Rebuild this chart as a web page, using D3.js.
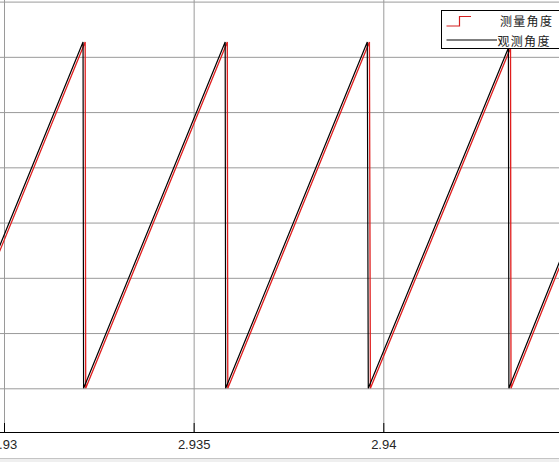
<!DOCTYPE html>
<html>
<head>
<meta charset="utf-8">
<script src="https://cdn.jsdelivr.net/npm/d3@7"></script>
<style>
  body { margin: 0; background: #fff; }
  svg { display: block; }
  .tick text { font-family: "Liberation Sans", Arial, sans-serif; font-size: 13px; fill: #262626; }
</style>
</head>
<body>
<svg width="559" height="462"></svg>
<script>
// observed angle (black), vertices of the sawtooth
var obsTime  = [2.929789, 2.932084, 2.932098, 2.935831, 2.935844, 2.939578, 2.939604, 2.943298, 2.943311, 2.944749];
var obsAngle = [2.413, 6.27, 0, 6.27, 0, 6.27, 0, 6.16, 0, 2.467];

// measured angle (red), lags the observed one slightly
var measTime  = [2.929845, 2.932140, 2.932154, 2.935887, 2.935900, 2.939634, 2.939660, 2.943354, 2.943367, 2.944805];
var measAngle = [2.413, 6.27, 0, 6.27, 0, 6.27, 0, 6.16, 0, 2.467];

var xTicks = [2.93, 2.935, 2.94];
var xTickLabels = ["2.93", "2.935", "2.94"];
var xGrid = [2.925, 2.93, 2.935, 2.94, 2.945];
var yTicks = [0, 1, 2, 3, 4, 5, 6, 7];
var legendLabels = ["测量角度", "观测角度"];

var W = 559, H = 462;
var axisY = 432;

var svg = d3.select("svg");

var x = d3.scaleLinear().domain([2.93, 2.94]).range([4, 383.3]);
var y = d3.scaleLinear().domain([0, 7]).range([388.3, 1.6]);

// bottom strip of the figure window
svg.append("rect").attr("x", 0).attr("y", 458).attr("width", W).attr("height", 4).attr("fill", "#efefef");
svg.append("line").attr("x1", 0).attr("x2", W).attr("y1", 458.5).attr("y2", 458.5).attr("stroke", "#c4c4c4");

// grid
var gridX = svg.append("g")
    .attr("transform", `translate(0,${axisY})`)
    .call(d3.axisBottom(x).tickValues(xGrid).tickSize(-axisY).tickFormat(""));
gridX.select(".domain").remove();
gridX.selectAll(".tick line").attr("stroke", "#9a9a9a").attr("stroke-width", 1);

var gridY = svg.append("g")
    .attr("transform", "translate(-10,0)")
    .call(d3.axisLeft(y).tickValues(yTicks).tickSize(-(W + 20)).tickFormat(""));
gridY.select(".domain").remove();
gridY.selectAll(".tick line").attr("stroke", "#9a9a9a").attr("stroke-width", 1);

// clip to plot area
svg.append("clipPath").attr("id", "plotclip")
  .append("rect").attr("x", -20).attr("y", 0).attr("width", W + 40).attr("height", axisY);

var line = d3.line()
    .x(function (d) { return x(d[0]); })
    .y(function (d) { return y(d[1]); });

var plot = svg.append("g").attr("clip-path", "url(#plotclip)");

plot.append("path")
    .datum(d3.zip(measTime, measAngle))
    .attr("fill", "none")
    .attr("stroke", "#e01e1e")
    .attr("stroke-width", 1.3)
    .attr("d", line);

plot.append("path")
    .datum(d3.zip(obsTime, obsAngle))
    .attr("fill", "none")
    .attr("stroke", "#000")
    .attr("stroke-width", 1.2)
    .attr("d", line);

// x axis, ticks pointing inward
var xAxis = svg.append("g")
    .attr("transform", `translate(0,${axisY})`)
    .call(d3.axisBottom(x).tickValues(xTicks)
        .tickFormat(function (d, i) { return xTickLabels[i]; })
        .tickSizeInner(-9).tickSizeOuter(0).tickPadding(8));
xAxis.select(".domain").attr("d", `M-10,0.5H${W + 10}`).attr("stroke", "#000");
xAxis.selectAll(".tick line").attr("stroke", "#000");

// legend
var legend = svg.append("g");
legend.append("rect")
    .attr("x", 441.5).attr("y", 10.5).attr("width", 125).attr("height", 38)
    .attr("fill", "#fff").attr("stroke", "#000").attr("stroke-width", 1);
legend.append("path")
    .attr("d", "M446.5,26H459.5V16.5H471")
    .attr("fill", "none").attr("stroke", "#d42020").attr("stroke-width", 1.2);
legend.append("line")
    .attr("x1", 446.5).attr("x2", 497).attr("y1", 40).attr("y2", 40)
    .attr("stroke", "#000").attr("stroke-width", 1.2);
legend.selectAll("text")
    .data(legendLabels)
    .enter().append("text")
    .attr("x", function (d, i) { return i === 0 ? 500 : 497.5; })
    .attr("y", function (d, i) { return i === 0 ? 25.5 : 45.5; })
    .attr("font-family", "'Noto Sans CJK SC', sans-serif")
    .attr("font-size", 12)
    .attr("letter-spacing", 1.3)
    .attr("fill", "#222")
    .text(function (d) { return d; });
</script>
</body>
</html>
